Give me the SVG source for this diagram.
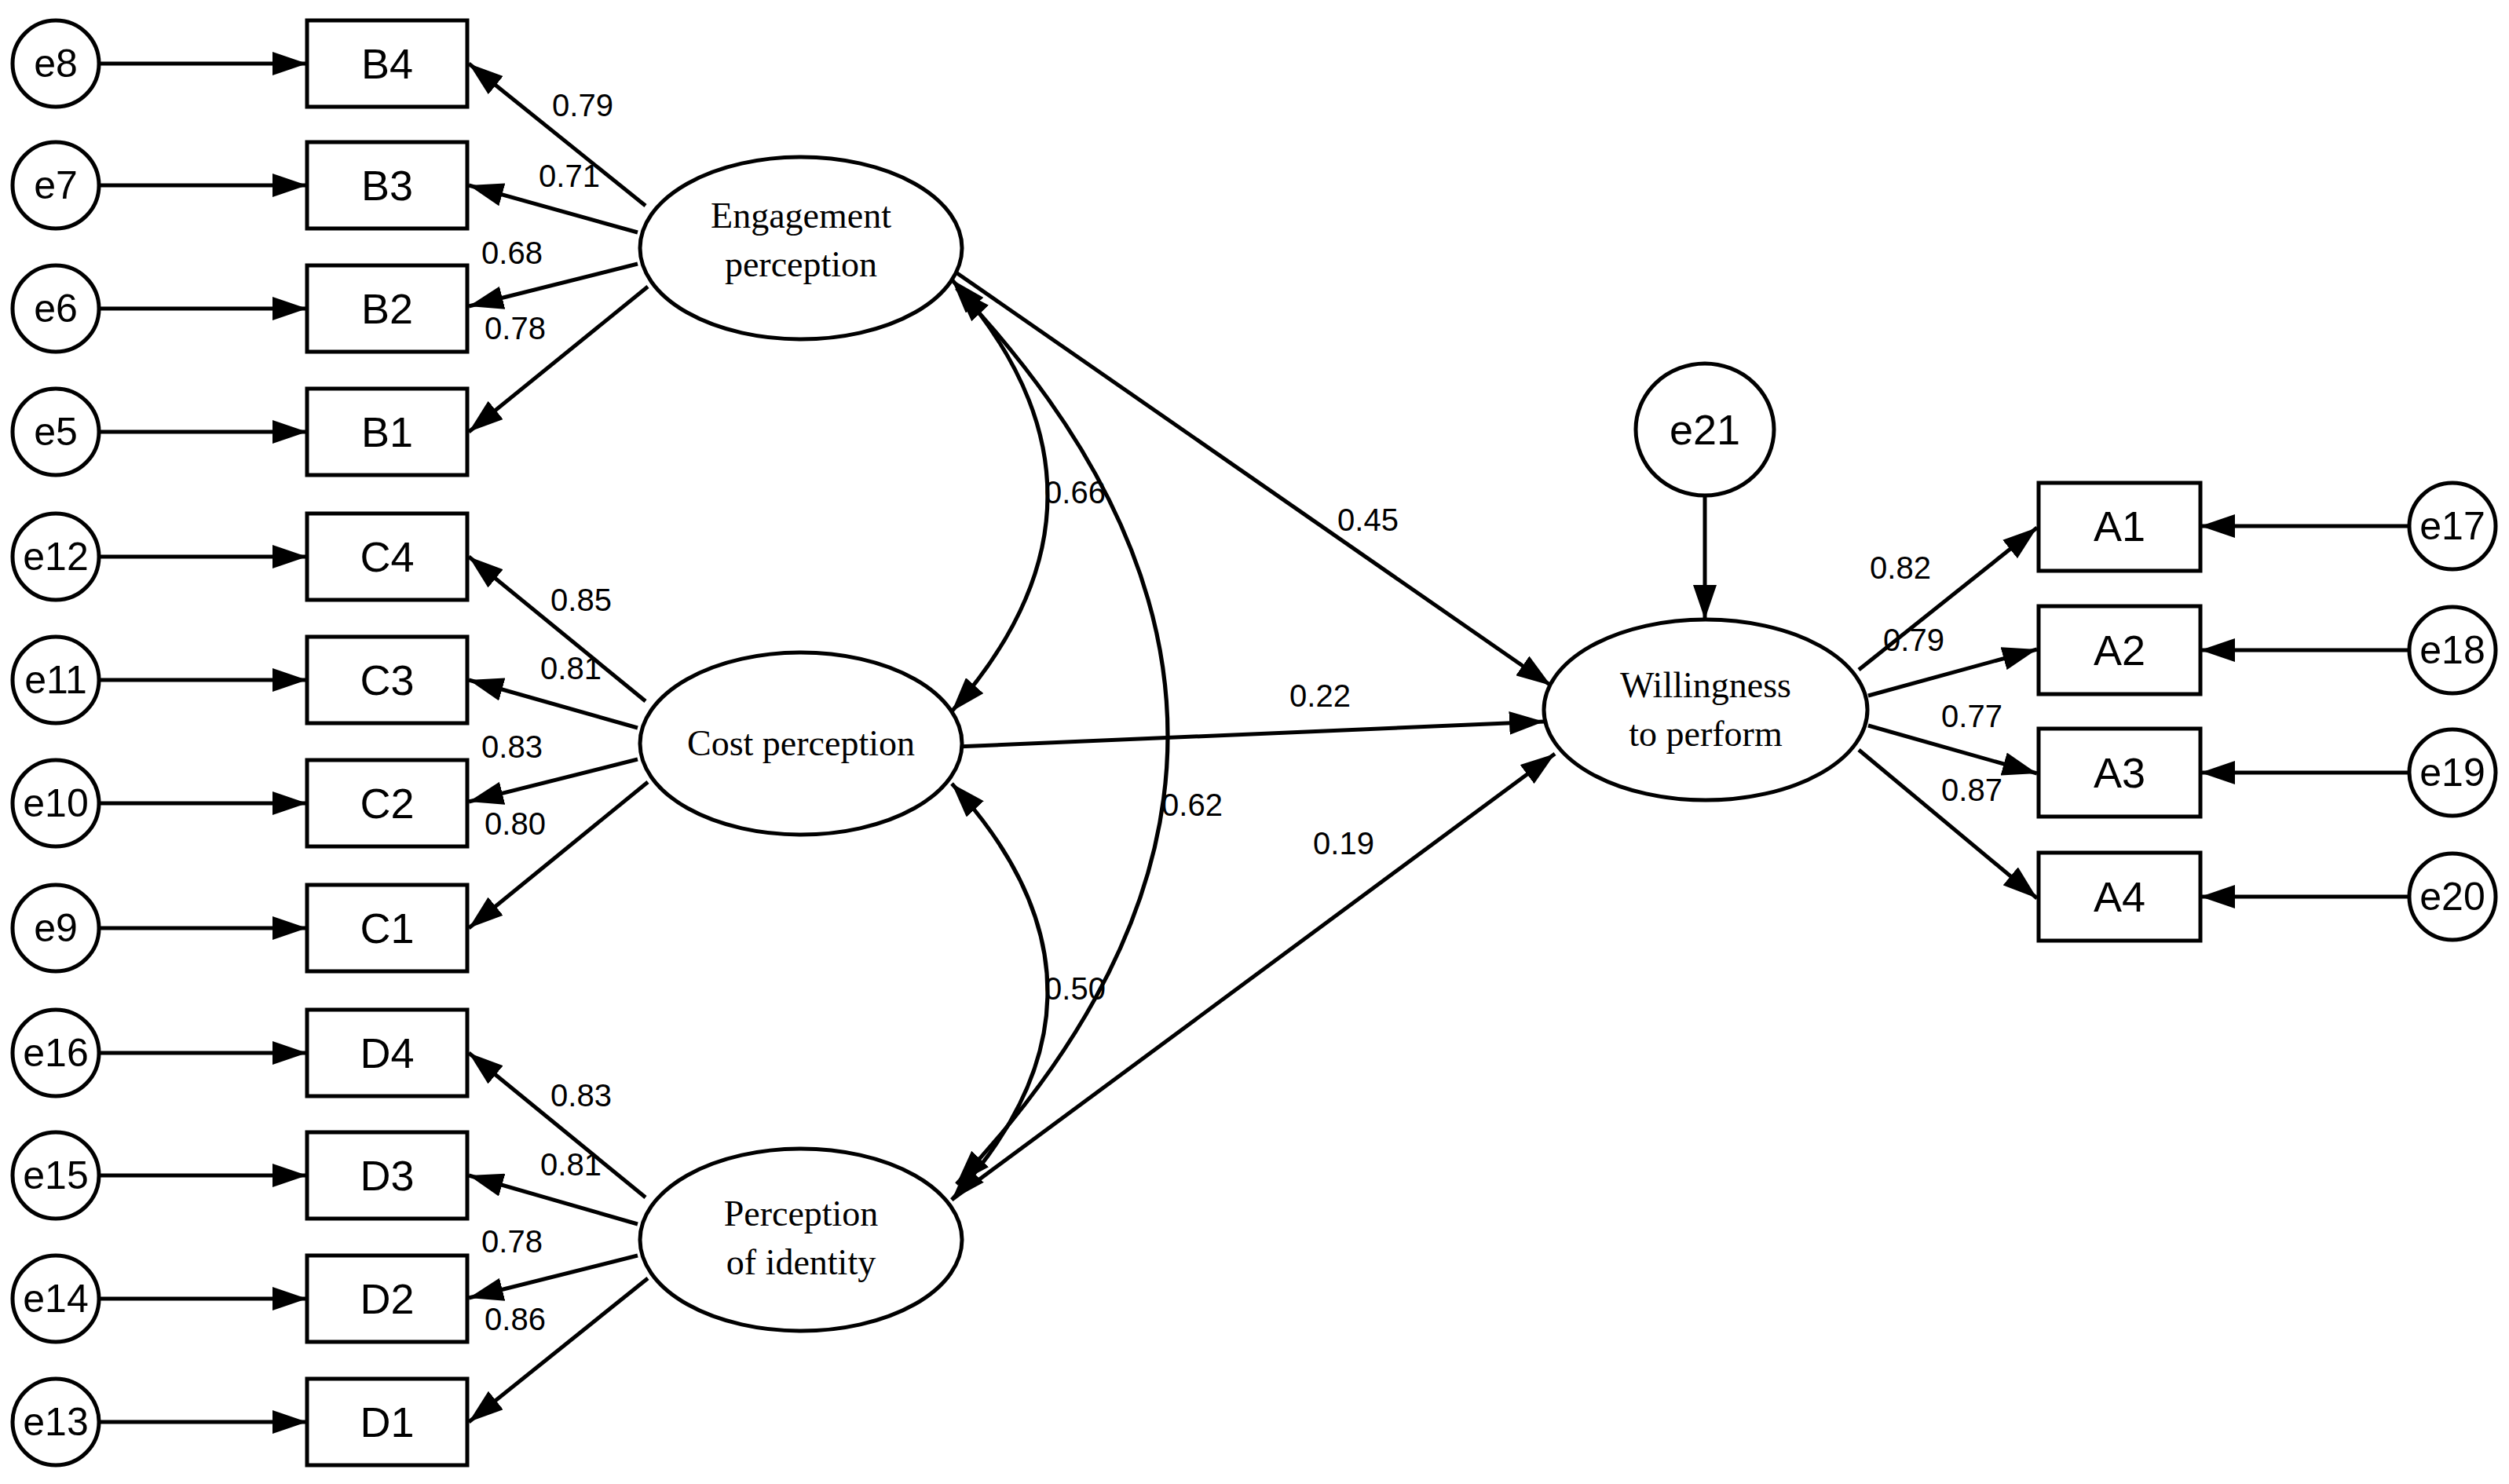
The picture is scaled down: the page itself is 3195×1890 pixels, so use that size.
<svg xmlns="http://www.w3.org/2000/svg" width="3195" height="1890" viewBox="0 0 3195 1890">
<style>
.s{fill:none;stroke:#000;stroke-width:5}
.n{fill:#fff;stroke:#000;stroke-width:5}
.t{font-family:"Liberation Sans",Arial,sans-serif;font-size:54px;text-anchor:middle;dominant-baseline:central}
.e{font-family:"Liberation Sans",Arial,sans-serif;font-size:50px;text-anchor:middle;dominant-baseline:central}
.l{font-family:"Liberation Serif","Times New Roman",serif;font-size:46px;text-anchor:middle}
.v{font-family:"Liberation Sans",Arial,sans-serif;font-size:40px;text-anchor:middle;dominant-baseline:central}
</style>
<defs>
<marker id="a" markerUnits="userSpaceOnUse" markerWidth="46" markerHeight="30" refX="44" refY="15" orient="auto-start-reverse"><path d="M0,0 L44,15 L0,30 Z" fill="#000"/></marker>
</defs>
<rect width="3195" height="1890" fill="#fff"/>
<g id="connectors" class="s" marker-end="url(#a)">
<path d="M126,81H391"/><path d="M126,236H391"/><path d="M126,393H391"/><path d="M126,550H391"/>
<path d="M126,709H391"/><path d="M126,866H391"/><path d="M126,1023H391"/><path d="M126,1182H391"/>
<path d="M126,1341H391"/><path d="M126,1497H391"/><path d="M126,1654H391"/><path d="M126,1811H391"/>
<path d="M822,262L597,81"/><path d="M812,296L597,236"/><path d="M812,336L597,390"/><path d="M825,365L597,550"/>
<path d="M822,893L597,709"/><path d="M812,927L597,866"/><path d="M812,967L597,1021"/><path d="M825,996L597,1182"/>
<path d="M822,1525L597,1341"/><path d="M812,1559L597,1497"/><path d="M812,1599L597,1653"/><path d="M825,1628L597,1811"/>
<path d="M3068,670H2802"/><path d="M3068,828H2802"/><path d="M3068,984H2802"/><path d="M3068,1142H2802"/>
<path d="M2171,631V789"/>
<path d="M2367,853L2594,672"/><path d="M2379,886L2594,827"/><path d="M2379,924L2594,985"/><path d="M2367,955L2594,1144"/>
<path d="M1216,346L1975,873"/><path d="M1218,951L1966,919"/><path d="M1212,1528L1980,960"/>
<path d="M1212,356Q1456,631 1212,906" marker-start="url(#a)"/>
<path d="M1212,998Q1456,1263 1212,1528" marker-start="url(#a)"/>
<path d="M1218,367Q1756,937 1218,1508" marker-start="url(#a)"/>
</g>
<g id="errors">
<g id="e8"><circle class="n" cx="71" cy="81" r="55"/><text class="e" x="71" y="81">e8</text></g>
<g id="e7"><circle class="n" cx="71" cy="236" r="55"/><text class="e" x="71" y="236">e7</text></g>
<g id="e6"><circle class="n" cx="71" cy="393" r="55"/><text class="e" x="71" y="393">e6</text></g>
<g id="e5"><circle class="n" cx="71" cy="550" r="55"/><text class="e" x="71" y="550">e5</text></g>
<g id="e12"><circle class="n" cx="71" cy="709" r="55"/><text class="e" x="71" y="709">e12</text></g>
<g id="e11"><circle class="n" cx="71" cy="866" r="55"/><text class="e" x="71" y="866">e11</text></g>
<g id="e10"><circle class="n" cx="71" cy="1023" r="55"/><text class="e" x="71" y="1023">e10</text></g>
<g id="e9"><circle class="n" cx="71" cy="1182" r="55"/><text class="e" x="71" y="1182">e9</text></g>
<g id="e16"><circle class="n" cx="71" cy="1341" r="55"/><text class="e" x="71" y="1341">e16</text></g>
<g id="e15"><circle class="n" cx="71" cy="1497" r="55"/><text class="e" x="71" y="1497">e15</text></g>
<g id="e14"><circle class="n" cx="71" cy="1654" r="55"/><text class="e" x="71" y="1654">e14</text></g>
<g id="e13"><circle class="n" cx="71" cy="1811" r="55"/><text class="e" x="71" y="1811">e13</text></g>
<g id="e17"><circle class="n" cx="3123" cy="670" r="55"/><text class="e" x="3123" y="670">e17</text></g>
<g id="e18"><circle class="n" cx="3123" cy="828" r="55"/><text class="e" x="3123" y="828">e18</text></g>
<g id="e19"><circle class="n" cx="3123" cy="984" r="55"/><text class="e" x="3123" y="984">e19</text></g>
<g id="e20"><circle class="n" cx="3123" cy="1142" r="55"/><text class="e" x="3123" y="1142">e20</text></g>
<g id="e21"><ellipse class="n" cx="2171" cy="547" rx="88" ry="84"/><text class="t" x="2171" y="547">e21</text></g>
</g>
<g id="indicators">
<g id="B4"><rect class="n" x="391" y="26" width="204" height="110"/><text class="t" x="493" y="81">B4</text></g>
<g id="B3"><rect class="n" x="391" y="181" width="204" height="110"/><text class="t" x="493" y="236">B3</text></g>
<g id="B2"><rect class="n" x="391" y="338" width="204" height="110"/><text class="t" x="493" y="393">B2</text></g>
<g id="B1"><rect class="n" x="391" y="495" width="204" height="110"/><text class="t" x="493" y="550">B1</text></g>
<g id="C4"><rect class="n" x="391" y="654" width="204" height="110"/><text class="t" x="493" y="709">C4</text></g>
<g id="C3"><rect class="n" x="391" y="811" width="204" height="110"/><text class="t" x="493" y="866">C3</text></g>
<g id="C2"><rect class="n" x="391" y="968" width="204" height="110"/><text class="t" x="493" y="1023">C2</text></g>
<g id="C1"><rect class="n" x="391" y="1127" width="204" height="110"/><text class="t" x="493" y="1182">C1</text></g>
<g id="D4"><rect class="n" x="391" y="1286" width="204" height="110"/><text class="t" x="493" y="1341">D4</text></g>
<g id="D3"><rect class="n" x="391" y="1442" width="204" height="110"/><text class="t" x="493" y="1497">D3</text></g>
<g id="D2"><rect class="n" x="391" y="1599" width="204" height="110"/><text class="t" x="493" y="1654">D2</text></g>
<g id="D1"><rect class="n" x="391" y="1756" width="204" height="110"/><text class="t" x="493" y="1811">D1</text></g>
<g id="A1"><rect class="n" x="2596" y="615" width="206" height="112"/><text class="t" x="2699" y="670">A1</text></g>
<g id="A2"><rect class="n" x="2596" y="772" width="206" height="112"/><text class="t" x="2699" y="828">A2</text></g>
<g id="A3"><rect class="n" x="2596" y="928" width="206" height="112"/><text class="t" x="2699" y="984">A3</text></g>
<g id="A4"><rect class="n" x="2596" y="1086" width="206" height="112"/><text class="t" x="2699" y="1142">A4</text></g>
</g>
<g id="latents">
<g id="engagement"><ellipse class="n" cx="1020" cy="316" rx="205" ry="116"/><text class="l" x="1020" y="290">Engagement</text><text class="l" x="1020" y="352">perception</text></g>
<g id="cost"><ellipse class="n" cx="1020" cy="947" rx="205" ry="116"/><text class="l" x="1020" y="962">Cost perception</text></g>
<g id="identity"><ellipse class="n" cx="1020" cy="1579" rx="205" ry="116"/><text class="l" x="1020" y="1561">Perception</text><text class="l" x="1020" y="1623">of identity</text></g>
<g id="willingness"><ellipse class="n" cx="2172" cy="904" rx="206" ry="115"/><text class="l" x="2172" y="888">Willingness</text><text class="l" x="2172" y="950">to perform</text></g>
</g>
<g id="labels">
<text class="v" x="742" y="134">0.79</text><text class="v" x="725" y="224">0.71</text><text class="v" x="652" y="322">0.68</text><text class="v" x="656" y="418">0.78</text>
<text class="v" x="740" y="764">0.85</text><text class="v" x="727" y="851">0.81</text><text class="v" x="652" y="951">0.83</text><text class="v" x="656" y="1049">0.80</text>
<text class="v" x="740" y="1395">0.83</text><text class="v" x="727" y="1483">0.81</text><text class="v" x="652" y="1581">0.78</text><text class="v" x="656" y="1680">0.86</text>
<text class="v" x="1742" y="662">0.45</text><text class="v" x="1681" y="886">0.22</text><text class="v" x="1711" y="1074">0.19</text>
<text class="v" x="1369" y="627">0.66</text><text class="v" x="1518" y="1025">0.62</text><text class="v" x="1369" y="1259">0.50</text>
<text class="v" x="2420" y="723">0.82</text><text class="v" x="2437" y="815">0.79</text><text class="v" x="2511" y="912">0.77</text><text class="v" x="2511" y="1006">0.87</text>
</g>
</svg>
